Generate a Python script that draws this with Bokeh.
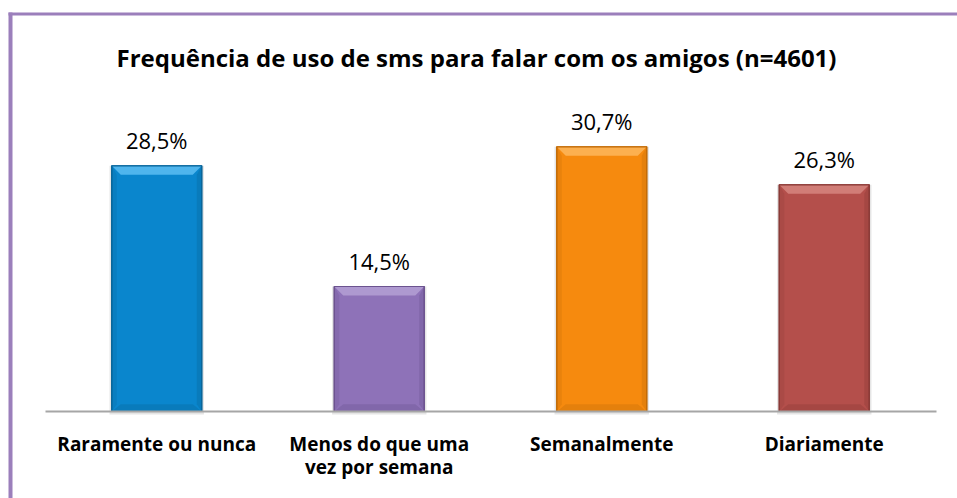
from bokeh.plotting import figure
from bokeh.models import Label, ColumnDataSource, Range1d, FixedTicker
from bokeh.core.properties import value
from bokeh.embed import file_html
from bokeh.resources import INLINE

categories = ["Raramente ou nunca", "Menos do que uma\nvez por semana", "Semanalmente", "Diariamente"]
values = [28.5, 14.5, 30.7, 26.3]
labels = ["28,5%", "14,5%", "30,7%", "26,3%"]
colors = ["#0A86CD", "#8E72B8", "#F68A0E", "#B44F4B"]
light = ["#5CBDF2", "#B4A0D4", "#FDB65C", "#D6857F"]
dark = ["#09669B", "#6B538F", "#C26C08", "#8A3A37"]
title = "Frequência de uso de sms para falar com os amigos (n=4601)"

W, H = 957, 498
# layout (pixels) of the chart area
axis_px, left_px, step_px, ppu = 411, 45, 222.5, 8.62

xs = [i + 0.5 for i in range(len(categories))]
x0 = -left_px / step_px
x1 = (W - left_px) / step_px
y0 = (axis_px - H) / ppu
y1 = axis_px / ppu

p = figure(width=W, height=H, x_range=Range1d(x0, x1), y_range=Range1d(y0, y1),
           output_backend="svg", toolbar_location=None,
           min_border_left=0, min_border_right=0, min_border_top=0, min_border_bottom=0)
p.styles = {"overflow": "hidden"}
p.title.visible = False
p.background_fill_color = "white"
p.border_fill_color = "white"
p.outline_line_color = None
p.xgrid.visible = False
p.ygrid.visible = False
p.yaxis.visible = False

# frame border (top and left edges of the chart box)
border = "#9B7FBB"
bl = (8 - left_px) / step_px
br = (12 - left_px) / step_px
bt = (axis_px - 12) / ppu
bb = (axis_px - 15) / ppu
p.quad(left=[bl, bl], right=[br, x1], top=[bt, bt], bottom=[y0 - 1, bb],
       fill_color=border, line_color=None)

src = ColumnDataSource(dict(x=xs, val=values, lab=labels, col=colors,
                            light=light, dark=dark))

bw = 90 / step_px
dx = 9 / step_px       # bevel width (x units)
dy = 9 / ppu           # bevel height (y units)
sx = 5 / step_px

# soft shadow
p.vbar(x="x", top="val", width=bw + 0.02, bottom=-0.35, source=src,
       fill_color="#000000", fill_alpha=0.10, line_color=None)
# body
p.vbar(x="x", top="val", width=bw, source=src, fill_color="col",
       line_color="dark", line_width=1.2)

# bevel facets computed from the bar values
top_xs, top_ys, bot_xs, bot_ys, lft_xs, lft_ys, rgt_xs, rgt_ys = [], [], [], [], [], [], [], []
for x, v in zip(xs, values):
    l, r = x - bw / 2, x + bw / 2
    top_xs.append([l, r, r - dx, l + dx]); top_ys.append([v, v, v - dy, v - dy])
    bot_xs.append([l, r, r - dx, l + dx]); bot_ys.append([0, 0, dy * 0.8, dy * 0.8])
    lft_xs.append([l, l + sx, l + sx, l]); lft_ys.append([0, dy * 0.8, v - dy, v])
    rgt_xs.append([r, r - sx, r - sx, r]); rgt_ys.append([0, dy * 0.8, v - dy, v])

p.patches(top_xs, top_ys, fill_color=light, fill_alpha=0.85, line_color=None)
p.patches(bot_xs, bot_ys, fill_color=dark, fill_alpha=0.35, line_color=None)
p.patches(lft_xs, lft_ys, fill_color=dark, fill_alpha=0.25, line_color=None)
p.patches(rgt_xs, rgt_ys, fill_color=dark, fill_alpha=0.35, line_color=None)
p.vbar(x="x", top="val", width=bw, source=src, fill_color=None,
       line_color="dark", line_width=1.2)

p.text(x="x", y="val", text="lab", source=src, text_align="center",
       text_baseline="middle", y_offset=-26, text_font=value("Open Sans"),
       text_font_size="22px", text_color="#000000")

ax = p.xaxis[0]
ax.fixed_location = 0
ax.bounds = (0, len(categories) + 0.004)
ax.ticker = FixedTicker(ticks=xs)
ax.major_label_overrides = {x: c for x, c in zip(xs, categories)}
ax.axis_line_color = "#A6A6A6"
ax.axis_line_width = 2
ax.major_tick_line_color = None
ax.minor_tick_line_color = None
ax.major_label_text_font = "Open Sans"
ax.major_label_text_font_style = "bold"
ax.major_label_text_font_size = "19px"
ax.major_label_text_color = "#000000"
ax.major_label_text_line_height = 0.9
ax.major_label_standoff = 13

p.add_layout(Label(x=(476 - left_px) / step_px, y=(axis_px - 57) / ppu, text=title,
                   text_align="center", text_baseline="middle",
                   text_font="Open Sans", text_font_style="bold",
                   text_font_size="24px", text_color="#000000"))

open("out.html", "w").write(file_html(p, INLINE))
